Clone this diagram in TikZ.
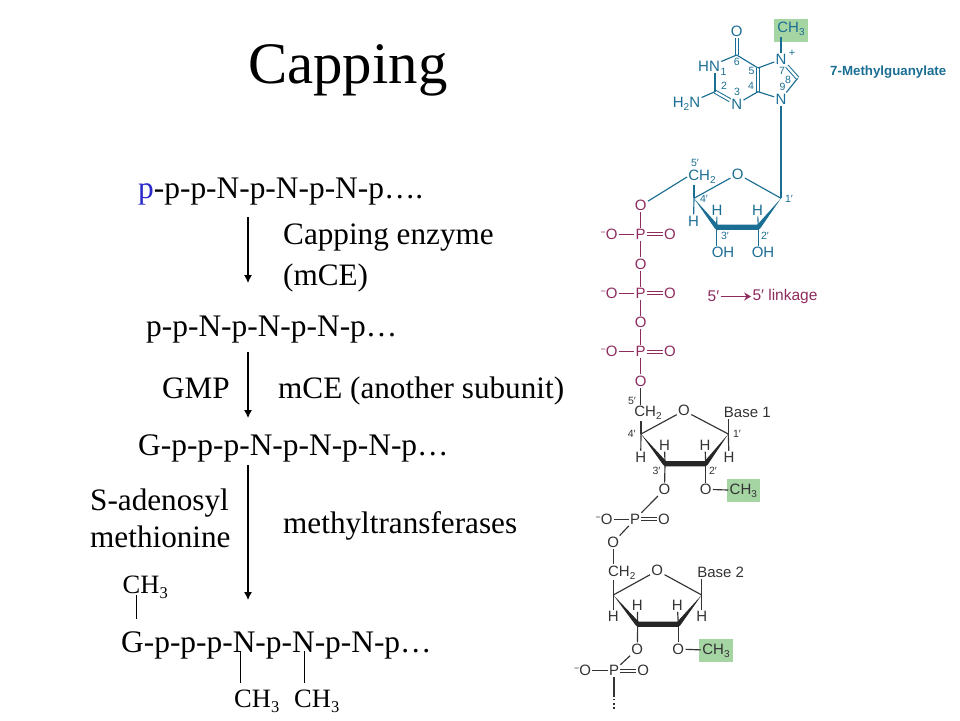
\documentclass[tikz,border=0pt]{standalone}
\usepackage{fontspec}
\setmainfont{Liberation Serif}
\newfontfamily\chemfont{Liberation Sans}
\usetikzlibrary{arrows.meta}
\definecolor{cblue}{HTML}{1B6E93}
\definecolor{cmar}{HTML}{8F2C5F}
\definecolor{cdark}{HTML}{333333}
\definecolor{cgreen}{HTML}{A6D5A4}
\definecolor{pblue}{HTML}{2A2AC8}
\newcommand{\lowsub}[1]{\raisebox{-3pt}{\fontsize{10}{10}\selectfont #1}}
\newcommand{\lowtxt}[1]{\raisebox{-5pt}{\fontsize{16.5}{17}\selectfont #1}}
\newcommand{\minusO}{\raisebox{4pt}{\fontsize{9}{9}\selectfont −}O}
\tikzset{
  x=1pt,y=-1pt,
  lab/.style={anchor=base west,inner sep=0pt,font=\fontsize{31.2}{34}\selectfont,text=black},
  seq/.style={lab,font=\fontsize{31.4}{34}\selectfont},
  metlab/.style={anchor=base west,inner sep=0pt,font=\fontsize{26.5}{28}\selectfont},
  arr/.style={draw=black,line width=1.1pt,-{Latex[length=8pt,width=8pt]}},
  tick/.style={draw=black,line width=0.9pt},
  atom/.style={inner sep=1.2pt,font=\chemfont\fontsize{15}{16}\selectfont},
  num/.style={inner sep=0pt,font=\chemfont\fontsize{10.5}{11}\selectfont},
  bond/.style={line width=1.15pt},
  dbl/.style={double,double distance=2.2pt,line width=1pt},
  greenbox/.style={fill=cgreen,draw=none},
}
\begin{document}
\begin{tikzpicture}
\useasboundingbox (0,0) rectangle (960,720);
% left part
\node[anchor=base west,inner sep=0pt,font=\fontsize{58.8}{60}\selectfont] (title) at (248,83) {Capping};
\node[seq] (s1) at (138,198) {\textcolor{pblue}{p}-p-p-N-p-N-p-N-p….};
\node[seq] (s2) at (146,336) {p-p-N-p-N-p-N-p…};
\node[seq] (s3) at (138,455) {G-p-p-p-N-p-N-p-N-p…};
\node[seq] (s4) at (121,652) {G-p-p-p-N-p-N-p-N-p…};
\node[lab] (e1) at (283,244) {Capping enzyme};
\node[lab] (e2) at (283,285) {(mCE)};
\node[lab] (g) at (162,398) {GMP};
\node[lab] (e3) at (278,398) {mCE (another subunit)};
\node[lab] (a1) at (90,510) {S-adenosyl};
\node[lab] (a2) at (90,547) {methionine};
\node[lab] (e4) at (283,533) {methyltransferases};
\node[metlab] (m1) at (122.5,593) {CH\lowtxt{3}};
\node[metlab] (m2) at (234,707) {CH\lowtxt{3}};
\node[metlab] (m3) at (294,707) {CH\lowtxt{3}};
\coordinate (a1s) at (248,217); \coordinate (a1e) at (248,283);
\coordinate (a2s) at (248,352); \coordinate (a2e) at (248,418);
\coordinate (a3s) at (248,465); \coordinate (a3e) at (248,600);
\draw[arr] (a1s) -- (a1e);
\draw[arr] (a2s) -- (a2e);
\draw[arr] (a3s) -- (a3e);
\coordinate (t1a) at (136.5,595); \coordinate (t1b) at (136.5,619);
\coordinate (t2a) at (240.3,651); \coordinate (t2b) at (240.3,683);
\coordinate (t3a) at (304.3,651); \coordinate (t3b) at (304.3,683);
\draw[tick] (t1a) -- (t1b);
\draw[tick] (t2a) -- (t2b);
\draw[tick] (t3a) -- (t3b);

% green boxes
\fill[greenbox] (773.7,18.7) rectangle (808,41.7);
\fill[greenbox] (726.7,479.3) rectangle (760,501.7);
\fill[greenbox] (699.3,639.3) rectangle (733,661.7);

% ---- 7-methylguanylate (blue)
\begin{scope}[every node/.append style={text=cblue},draw=cblue]
\node[atom] (gO) at (736.7,31.7) {O};
\node[atom] (gMe) at (791,29) {CH\lowsub{3}};
\node[atom] (gN7) at (781,59.5) {N};
\node[num,font=\chemfont\fontsize{11}{11}\selectfont] (gPlus) at (792,53) {+};
\node[atom] (gN1) at (709,66.7) {HN};
\node[atom] (gN3) at (736.7,104) {N};
\node[atom] (gNH2) at (686.5,104) {H\lowsub{2}N};
\node[atom] (gN9) at (781,99) {N};
\coordinate (gC6) at (736.7,55);
\coordinate (gC5) at (758,68);
\coordinate (gC4) at (758,91.7);
\coordinate (gC2) at (715,91.7);
\coordinate (gC8) at (797.7,78.3);
\draw[bond] (gMe.south -| gN7) -- (gN7);
\draw[dbl] (gO) -- (gC6);
\draw[bond] (gC6) -- (gN1);
\draw[bond] (gC6) -- (gC5);
\draw[dbl] (gC5) -- (gC4);
\draw[bond] (gC5) -- (gN7);
\draw[bond] (gC4) -- (gN9);
\draw[bond] (gC4) -- (gN3);
\draw[dbl] (gC2) -- (gN3);
\draw[bond] (gC2) -- (gN1.south -| gC2);
\draw[bond] (gC2) -- (gNH2);
\draw[dbl] (gN7) -- (gC8);
\draw[bond] (gC8) -- (gN9);
\node[num] (n1) at (723.5,71.5) {1};
\node[num] (n2) at (724,86) {2};
\node[num] (n3) at (737,92) {3};
\node[num] (n4) at (751,86) {4};
\node[num] (n5) at (751.5,71) {5};
\node[num] (n6) at (736.7,61.5) {6};
\node[num] (n7) at (782,71) {7};
\node[num] (n8) at (788,80) {8};
\node[num] (n9) at (782.5,87) {9};
% ribose
\node[atom] (rO) at (737.7,174) {O};
\node[atom] (rCH) at (702,177) {CH\lowsub{2}};
\coordinate (rC1) at (781,198.3);
\coordinate (rC4) at (694,198.3);
\coordinate (rC3) at (716.7,227.3);
\coordinate (rC2) at (758.3,227.3);
\node[atom] (rH3) at (717,210) {H};
\node[atom] (rH2) at (757.5,210) {H};
\node[atom] (rH4) at (693.5,221) {H};
\node[atom] (rOH3) at (723,252.7) {OH};
\node[atom] (rOH2) at (763,252.7) {OH};
\draw[bond] (gN9) -- (rC1);
\draw[bond] (rO) -- (rC1);
\draw[bond] (rO) -- (rC4);
\draw[bond] (rC4) -- (rH4);
\draw[bond] (rC4) -- (rCH.south -| rC4);
\draw[bond] (rC3) -- (rH3);
\draw[bond] (rC2) -- (rH2);
\draw[bond] (rC3) -- (rOH3.north -| rC3);
\draw[bond] (rC2) -- (rOH2.north -| rC2);
\fill[cblue] (rC4) -- ([xshift=-2pt,yshift=-1pt]rC3) -- ([yshift=-2.6pt]rC3) -- ([yshift=-2.6pt]rC2) -- ([xshift=2pt,yshift=-1pt]rC2) -- (rC1) -- ([xshift=-1pt,yshift=2.6pt]rC2) -- ([xshift=1pt,yshift=2.6pt]rC3) -- cycle;
\node[num] (r5) at (695,163) {5′};
\node[num] (r4) at (704,198.5) {4′};
\node[num] (r3) at (725,236) {3′};
\node[num] (r2) at (765,236) {2′};
\node[num] (r1) at (789,198.5) {1′};
\node[anchor=base west,inner sep=0pt,font=\chemfont\bfseries\fontsize{13.3}{14}\selectfont] (gl) at (830,75.5) {7-Methylguanylate};
\end{scope}

% ---- phosphates (maroon)
\begin{scope}[every node/.append style={text=cmar},draw=cmar]
\node[atom] (p1t) at (640.7,205.7) {O};
\node[atom] (p1) at (640.7,234.3) {P};
\node[atom] (p1r) at (670,234.3) {O};
\node[atom] (p1l) at (609,234.3) {\minusO};
\node[atom] (p12) at (640.7,264) {O};
\node[atom] (p2) at (640.7,293.3) {P};
\node[atom] (p2r) at (670,293.3) {O};
\node[atom] (p2l) at (609,293.3) {\minusO};
\node[atom] (p23) at (640.7,322.7) {O};
\node[atom] (p3) at (640.7,351.7) {P};
\node[atom] (p3r) at (670,351.7) {O};
\node[atom] (p3l) at (609,351.7) {\minusO};
\node[atom] (p3b) at (640.7,381) {O};
\foreach \a/\b in {p1t/p1,p1/p12,p12/p2,p2/p23,p23/p3,p3/p3b}{\draw[bond] (\a) -- (\b);}
\foreach \a/\b in {p1/p1r,p2/p2r,p3/p3r}{\draw[dbl] (\a) -- (\b);}
\foreach \a/\b in {p1l/p1,p2l/p2,p3l/p3}{\draw[bond] (\a) -- (\b);}
\draw[bond,draw=cblue] (p1t) -- (rCH.west);
\node[atom,font=\chemfont\fontsize{15.5}{16}\selectfont] (l5a) at (713.5,296.5) {5′};
\node[atom,font=\chemfont\fontsize{15.5}{16}\selectfont] (l5b) at (785,296.5) {5′ linkage};
\draw[draw=cmar,line width=1.6pt,-{Stealth[length=7pt,width=8pt]}] (l5a) -- (l5b);
\end{scope}

% ---- first nucleotide (dark)
\begin{scope}[every node/.append style={text=cdark},draw=cdark]
\node[atom] (aO) at (684,410.7) {O};
\node[atom] (aCH) at (648,412.7) {CH\lowsub{2}};
\node[atom] (aB) at (747.3,412.7) {Base 1};
\coordinate (aC1) at (728.3,434);
\coordinate (aC4) at (641,434);
\coordinate (aC3) at (665,463.7);
\coordinate (aC2) at (705.7,463.7);
\node[atom] (aH3) at (664.5,445) {H};
\node[atom] (aH2) at (705,445) {H};
\node[atom] (aH4) at (640.7,457.3) {H};
\node[atom] (aH1) at (729,457.3) {H};
\node[atom] (aO3) at (664.5,489.3) {O};
\node[atom] (aO2) at (705.7,489.3) {O};
\node[atom] (aMe) at (743.3,490.5) {CH\lowsub{3}};
\draw[bond,draw=cdark] (p3b) -- (aCH.north -| p3b);
\draw[bond] (aO) -- (aC1);
\draw[bond] (aO) -- (aC4);
\draw[bond] (aC4) -- (aH4);
\draw[bond] (aC4) -- (aCH.south -| aC4);
\draw[bond] (aC1) -- (aH1);
\draw[bond] (aC1) -- (aB.south -| aC1);
\draw[bond] (aC3) -- (aH3);
\draw[bond] (aC2) -- (aH2);
\draw[bond] (aC3) -- (aO3);
\draw[bond] (aC2) -- (aO2);
\draw[bond] (aO2) -- (aMe);
\fill[black!85] (aC4) -- ([xshift=-2pt,yshift=-1pt]aC3) -- ([yshift=-2.6pt]aC3) -- ([yshift=-2.6pt]aC2) -- ([xshift=2pt,yshift=-1pt]aC2) -- (aC1) -- ([xshift=-1pt,yshift=2.6pt]aC2) -- ([xshift=1pt,yshift=2.6pt]aC3) -- cycle;
\node[num] (a5) at (632,401) {5′};
\node[num] (a4) at (631.7,434.3) {4′};
\node[num] (a3) at (656.5,471) {3′};
\node[num] (a2) at (713,471) {2′};
\node[num] (a1n) at (737,434) {1′};
% linking phosphate
\node[atom] (bP) at (635,519.3) {P};
\node[atom] (bPl) at (604,519.3) {\minusO};
\node[atom] (bPr) at (664,519.3) {O};
\node[atom] (bO5) at (613.3,542.3) {O};
\draw[bond] (aO3) -- (bP);
\draw[bond] (bPl) -- (bP);
\draw[dbl] (bP) -- (bPr);
\draw[bond] (bP) -- (bO5);
% second nucleotide
\node[atom] (cO) at (657.3,570.7) {O};
\node[atom] (cCH) at (621.7,572.3) {CH\lowsub{2}};
\node[atom] (cB) at (720.7,572.3) {Base 2};
\coordinate (cC1) at (701.7,595);
\coordinate (cC4) at (613.3,595);
\coordinate (cC3) at (637.7,624.3);
\coordinate (cC2) at (678.3,624.3);
\node[atom] (cH3) at (637.3,605.3) {H};
\node[atom] (cH2) at (677.3,605.3) {H};
\node[atom] (cH4) at (613.3,616.7) {H};
\node[atom] (cH1) at (701.7,616.7) {H};
\node[atom] (cO3) at (637.3,649) {O};
\node[atom] (cO2) at (678.3,649) {O};
\node[atom] (cMe) at (716,650.5) {CH\lowsub{3}};
\draw[bond] (bO5) -- (cCH.north -| bO5);
\draw[bond] (cO) -- (cC1);
\draw[bond] (cO) -- (cC4);
\draw[bond] (cC4) -- (cH4);
\draw[bond] (cC4) -- (cCH.south -| cC4);
\draw[bond] (cC1) -- (cH1);
\draw[bond] (cC1) -- (cB.south -| cC1);
\draw[bond] (cC3) -- (cH3);
\draw[bond] (cC2) -- (cH2);
\draw[bond] (cC3) -- (cO3);
\draw[bond] (cC2) -- (cO2);
\draw[bond] (cO2) -- (cMe);
\fill[black!85] (cC4) -- ([xshift=-2pt,yshift=-1pt]cC3) -- ([yshift=-2.6pt]cC3) -- ([yshift=-2.6pt]cC2) -- ([xshift=2pt,yshift=-1pt]cC2) -- (cC1) -- ([xshift=-1pt,yshift=2.6pt]cC2) -- ([xshift=1pt,yshift=2.6pt]cC3) -- cycle;
% terminal phosphate
\node[atom] (dP) at (614,670.7) {P};
\node[atom] (dPl) at (582.5,670.7) {\minusO};
\node[atom] (dPr) at (643.3,670.7) {O};
\coordinate (dEnd) at (614,696.5);
\coordinate (dD1) at (614,699);
\coordinate (dDots) at (614,710);
\draw[bond] (cO3) -- (dP);
\draw[bond] (dPl) -- (dP);
\draw[dbl] (dP) -- (dPr);
\draw[bond] (dP) -- (dEnd);
\draw[line width=1.4pt,dash pattern=on 1.4pt off 2.8pt] (dD1) -- (dDots);
\end{scope}
\end{tikzpicture}
\end{document}
